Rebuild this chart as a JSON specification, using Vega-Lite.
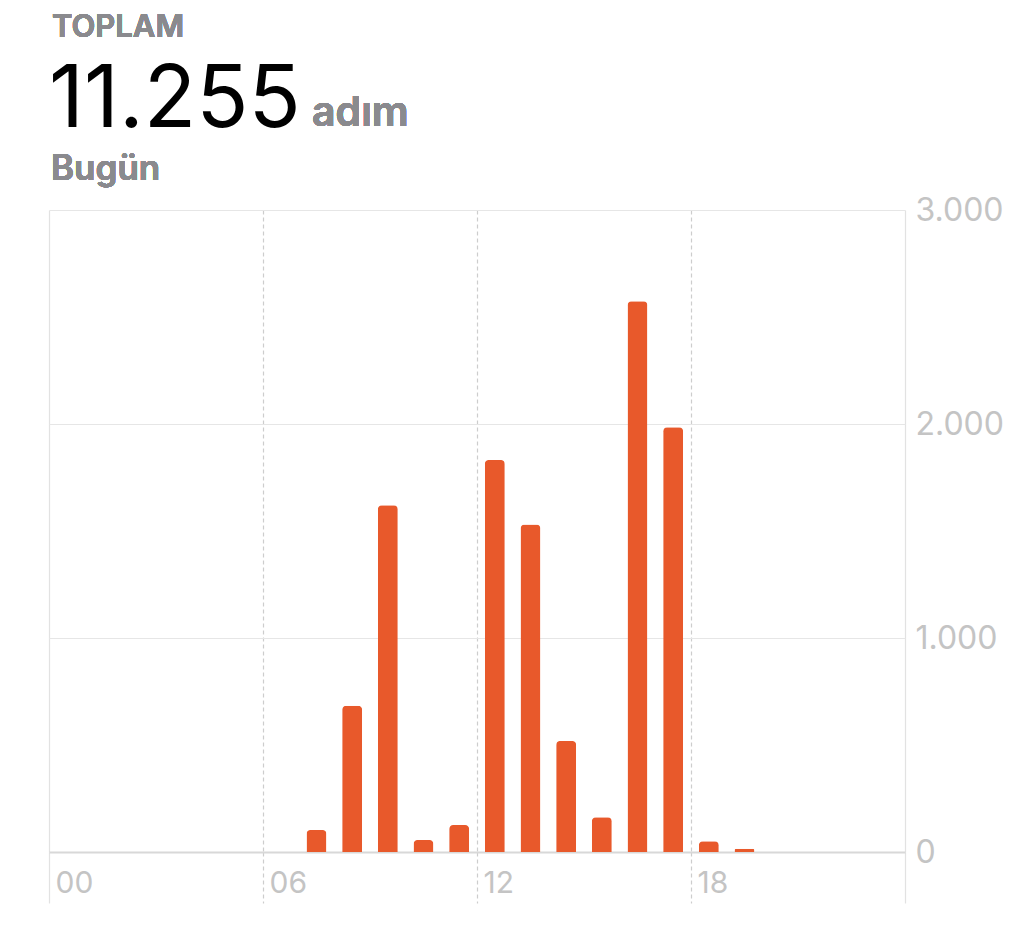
{
  "$schema": "https://vega.github.io/schema/vega-lite/v6.json",
  "width": 856,
  "height": 642,
  "autosize": {"type": "none"},
  "padding": {"left": 49, "top": 210, "right": 119, "bottom": 75},
  "background": "white",
  "config": {
    "view": {"stroke": null},
    "font": "Inter",
    "locale": {"number": {"decimal": ",", "thousands": ".", "grouping": [3], "currency": ["", " ₺"]}}
  },
  "data": {
    "values": [
      {"hour": 7, "steps": 103},
      {"hour": 8, "steps": 683},
      {"hour": 9, "steps": 1620},
      {"hour": 10, "steps": 56},
      {"hour": 11, "steps": 126},
      {"hour": 12, "steps": 1832},
      {"hour": 13, "steps": 1530},
      {"hour": 14, "steps": 519},
      {"hour": 15, "steps": 162},
      {"hour": 16, "steps": 2574},
      {"hour": 17, "steps": 1985},
      {"hour": 18, "steps": 50},
      {"hour": 19, "steps": 15}
    ]
  },
  "layer": [
    {
      "mark": {"type": "bar", "width": 20, "xOffset": 17.83, "color": "#e8592b", "cornerRadiusEnd": 4},
      "encoding": {
        "x": {
          "field": "hour",
          "type": "quantitative",
          "scale": {"domain": [0, 24], "nice": false, "zero": false, "padding": 0},
          "axis": {
            "title": null,
            "orient": "bottom",
            "values": [0, 6, 12, 18, 24],
            "grid": true,
            "gridColor": {"condition": {"test": "datum.value % 24 === 0", "value": "#e2e2e2"}, "value": "#cdcdcd"},
            "gridDash": {"condition": {"test": "datum.value % 24 === 0", "value": []}, "value": [4, 3]},
            "gridWidth": 1.2,
            "ticks": true,
            "tickSize": 51,
            "tickColor": {"condition": {"test": "datum.value % 24 === 0", "value": "#e2e2e2"}, "value": "#cdcdcd"},
            "tickDash": {"condition": {"test": "datum.value % 24 === 0", "value": []}, "value": [4, 3]},
            "tickWidth": 1.2,
            "domain": true,
            "domainColor": "#d8d8d8",
            "domainWidth": 2,
            "labelExpr": "datum.value >= 24 ? '' : (datum.value < 10 ? '0' + datum.value : '' + datum.value)",
            "labelAlign": "left",
            "labelBaseline": "top",
            "labelOffset": 6,
            "labelPadding": -35,
            "labelFontSize": 30,
            "labelColor": "#c4c4c4",
            "labelFont": "Inter"
          }
        },
        "y": {
          "field": "steps",
          "type": "quantitative",
          "scale": {"domain": [0, 3000], "nice": false},
          "axis": {
            "title": null,
            "orient": "right",
            "values": [0, 1000, 2000, 3000],
            "format": ",d",
            "grid": true,
            "gridColor": "#e6e6e6",
            "gridWidth": 1.2,
            "domain": false,
            "ticks": false,
            "labelPadding": 10,
            "labelAlign": "left",
            "labelBaseline": "middle",
            "labelFontSize": 32,
            "labelColor": "#c4c4c4",
            "labelFont": "Inter"
          }
        }
      }
    },
    {
      "mark": {"type": "text", "align": "left", "baseline": "alphabetic", "dx": 3, "dy": -173, "fontSize": 31, "fontWeight": 600, "color": "#8a8a8e"},
      "encoding": {"x": {"datum": 0}, "y": {"datum": 3000}, "text": {"value": "TOPLAM"}}
    },
    {
      "transform": [{"aggregate": [{"op": "sum", "field": "steps", "as": "total"}]}],
      "mark": {"type": "text", "align": "left", "baseline": "alphabetic", "dx": 0, "dy": -83, "fontSize": 86, "fontWeight": 400, "color": "#000000"},
      "encoding": {"x": {"datum": 0}, "y": {"datum": 3000}, "text": {"field": "total", "type": "quantitative", "format": ",d"}}
    },
    {
      "mark": {"type": "text", "align": "left", "baseline": "alphabetic", "dx": 263, "dy": -84, "fontSize": 41, "fontWeight": 600, "color": "#8a8a8e"},
      "encoding": {"x": {"datum": 0}, "y": {"datum": 3000}, "text": {"value": "adım"}}
    },
    {
      "mark": {"type": "text", "align": "left", "baseline": "alphabetic", "dx": 2, "dy": -30, "fontSize": 35, "fontWeight": 600, "color": "#8a8a8e"},
      "encoding": {"x": {"datum": 0}, "y": {"datum": 3000}, "text": {"value": "Bugün"}}
    }
  ]
}
